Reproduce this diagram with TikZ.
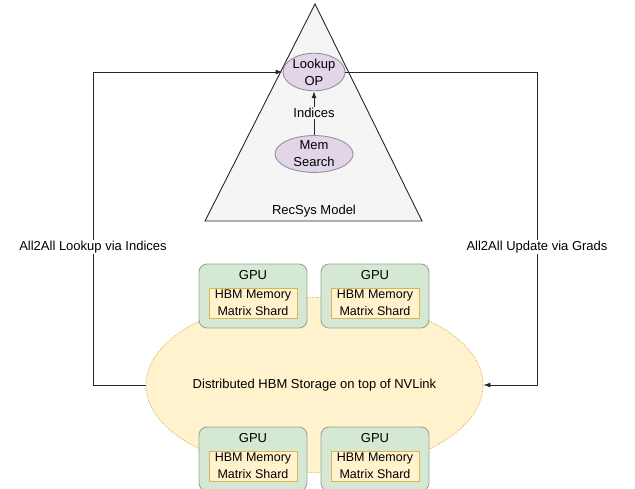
\documentclass[tikz,border=0pt]{standalone}
\usepackage{fontspec}
\setmainfont{Liberation Sans}
\usetikzlibrary{positioning}
\usetikzlibrary{arrows.meta}
\usetikzlibrary{shapes.geometric}

\definecolor{opfill}{HTML}{E1D5E7}
\definecolor{opline}{HTML}{9A8FA0}
\definecolor{gpufill}{HTML}{D5E8D4}
\definecolor{gpuline}{HTML}{9AA59A}
\definecolor{memfill}{HTML}{FFF2CC}
\definecolor{memline}{HTML}{D6B656}
\definecolor{modelfill}{HTML}{F5F5F5}

\begin{document}
\begin{tikzpicture}[x=1pt, y=-1pt, line width=0.9pt,
    txt/.style={font=\fontsize{13}{17}\selectfont},
    op/.style={ellipse, draw=opline, fill=opfill, txt, align=center, inner sep=0pt},
    gpu/.style={draw=gpuline, fill=gpufill, rounded corners=8pt, minimum width=108pt, minimum height=64pt},
    shard/.style={draw=memline, fill=memfill, minimum width=88pt, minimum height=30pt, align=center, inner sep=0pt, font=\fontsize{12.5}{16.5}\selectfont},
    link/.style={draw=black!85, -{Latex[length=7pt,width=5pt]}},
    lbl/.style={fill=white, txt, inner sep=1pt}
]
    \useasboundingbox (0,0) rectangle (635,489);

    % RecSys model triangle
    \draw[fill=modelfill, draw=black!85] (315,4) -- (422,221) -- (205,221) -- cycle;
    \node[txt] (model) at (314,211) {RecSys Model};

    % ops inside the model
    \node[op, minimum width=62pt, minimum height=35pt] (lookup) at (314,72) {Lookup\\OP};
    \node[op, minimum width=78pt, minimum height=36pt] (mem) at (314,154) {Mem\\Search};
    \draw[link] (mem) -- node[fill=modelfill, txt, inner sep=1pt] {Indices} (lookup);

    % distributed storage
    \node[ellipse, draw=memline, fill=memfill, dash pattern=on 1pt off 1.5pt,
          minimum width=337pt, minimum height=175pt] (store) at (314.5,385) {};
    \node[txt] (storelbl) at (store) {Distributed HBM Storage on top of NVLink};

    % GPUs with their shards
    \foreach \n/\x/\y in {a/253/296, b/375/296, c/253/459, d/375/459} {
        \node[gpu] (gpu\n) at (\x,\y) {};
        \node[txt, anchor=north, inner sep=0pt] (gpulbl\n) at ([yshift=-6.5pt]gpu\n.north) {GPU};
        \node[shard, below=24pt of gpu\n.north] (shard\n) {HBM Memory\\Matrix Shard};
    }

    % all2all connectors
    \coordinate (lft) at (93,0);
    \coordinate (rgt) at (537,0);
    \draw[link] (store.west) -- (store.west -| lft)
        -- node[lbl, pos=0.44] {All2All Lookup via Indices} (lookup.west -| lft)
        -- (lookup.west);
    \draw[link] (lookup.east) -- (lookup.east -| rgt)
        -- node[lbl, pos=0.56] {All2All Update via Grads} (store.east -| rgt)
        -- (store.east);
\end{tikzpicture}
\end{document}
